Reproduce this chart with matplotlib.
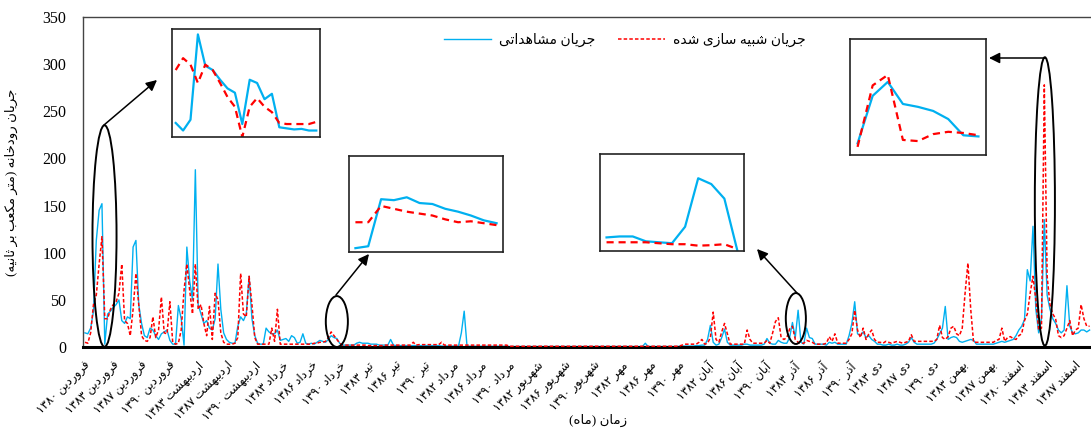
import re
import numpy as np
import matplotlib
matplotlib.use('Agg')
import matplotlib.pyplot as plt
from matplotlib.patches import Ellipse

## fonts: serif digits, DejaVu Sans for the Persian glyphs
plt.rcParams['font.family'] = ['Liberation Serif', 'DejaVu Sans']

## ---------------- data ----------------
# observed river flow (m3/s), one value per sample along the month axis
obs = [
    15, 14, 20, 38, 113, 145, 152, 3, 35, 38,
    42, 45, 50, 28, 25, 32, 30, 106, 113, 45,
    25, 12, 10, 20, 18, 12, 8, 14, 16, 18,
    7, 3, 3, 44, 30, 2, 106, 70, 50, 188,
    45, 35, 25, 28, 20, 18, 30, 88, 40, 15,
    8, 5, 4, 4, 22, 32, 28, 35, 75, 30,
    12, 4, 3, 3, 20, 16, 14, 14, 18, 7,
    8, 9, 6, 12, 10, 4, 5, 14, 4, 3,
    4, 3, 5, 7, 6, 5, 8, 12, 10, 9,
    4, 2, 2, 2, 2, 2, 4, 5, 4, 4,
    4, 3, 3, 3, 2, 2, 2, 2, 8, 2,
    1.5, 1.5, 1.5, 1.5, 1.5, 1.5, 1.5, 1.5, 1.5, 1.5,
    1.5, 1.5, 1.5, 1.5, 1.5, 1.5, 1, 1, 1, 1,
    1, 1, 1, 15, 38, 1, 0.8, 0.8, 0.8, 0.8,
    0.8, 0.8, 0.8, 0.8, 0.8, 0.8, 0.8, 0.8, 0.8, 0.8,
    0.5, 0.5, 0.5, 0.5, 0.5, 0.5, 0.5, 0.5, 0.5, 0.5,
    0.5, 0.5, 0.5, 0.5, 0.5, 0.5, 0.5, 0.5, 0.5, 0.5,
    0.5, 0.5, 0.5, 0.5, 0.5, 0.5, 0.5, 0.5, 0.5, 0.5,
    0.5, 0.5, 0.5, 0.5, 0.5, 0.5, 0.5, 0.5, 0.5, 0.5,
    0.5, 0.5, 0.5, 0.5, 0.5, 0.5, 0.5, 0.5, 4, 0.5,
    0.5, 0.5, 0.5, 0.5, 0.5, 0.5, 0.5, 0.5, 0.5, 0.5,
    0.8, 1, 1, 1, 1, 1, 1.5, 1.5, 2, 2,
    8, 23, 5, 2, 3, 10, 19, 5, 2, 2,
    2, 2, 2, 3, 3, 2, 2, 2, 2, 2,
    3, 9, 4, 3, 3, 7, 5, 4, 4, 10,
    26, 10, 39, 5, 3, 20, 10, 9, 3, 3,
    3, 3, 2, 5, 4, 5, 3, 3, 3, 3,
    12, 25, 48, 14, 12, 16, 10, 12, 8, 6,
    3, 3, 2, 2, 3, 2, 2, 3, 2, 2,
    3, 5, 10, 5, 3, 3, 3, 3, 3, 3,
    4, 8, 14, 20, 43, 8, 10, 11, 10, 6,
    5, 6, 7, 8, 7, 3, 3, 3, 3, 3,
    3, 3, 4, 5, 6, 5, 6, 7, 8, 12,
    18, 22, 29, 82, 70, 128, 40, 15, 30, 135,
    55, 40, 30, 25, 18, 15, 18, 65, 22, 15,
    14, 15, 18, 18, 16, 18,
]

# simulated river flow (m3/s)
sim = [
    5, 4, 15, 45, 55, 88, 117, 30, 30, 40,
    45, 48, 57, 88, 28, 25, 12, 40, 78, 45,
    12, 7, 6, 10, 32, 10, 18, 53, 15, 14,
    48, 5, 3, 4, 18, 60, 88, 60, 35, 88,
    40, 45, 25, 12, 43, 8, 57, 50, 15, 5,
    3, 3, 3, 4, 10, 78, 35, 32, 75, 45,
    10, 3, 3, 3, 3, 3, 20, 6, 40, 3,
    3, 3, 3, 3, 3, 3, 3, 3, 3, 3,
    3, 4, 4, 5, 5, 6, 10, 16, 12, 8,
    4, 2, 2, 2, 2, 2, 2, 2, 2, 2,
    1.5, 1.5, 1.5, 1.5, 1.5, 1.5, 2, 2, 2, 2,
    2, 2, 2, 2, 2, 2, 5, 2, 2.5, 2.5,
    2.5, 2.5, 2.5, 2.5, 2.5, 2.5, 5, 2, 2, 2,
    2, 2, 2, 2, 2, 2, 2, 2, 2, 2,
    2, 2, 2, 2, 2, 2, 2, 2, 2, 2,
    0.8, 0.8, 0.8, 0.8, 0.8, 0.8, 0.8, 0.8, 0.8, 0.8,
    0.8, 0.8, 0.8, 0.8, 0.8, 0.8, 0.8, 0.8, 0.8, 0.8,
    0.8, 0.8, 0.8, 0.8, 0.8, 0.8, 0.8, 0.8, 0.8, 0.8,
    0.8, 0.8, 0.8, 0.8, 0.8, 0.8, 0.8, 0.8, 0.8, 0.8,
    0.8, 0.8, 0.8, 0.8, 0.8, 0.8, 0.8, 0.8, 0.8, 0.8,
    0.8, 0.8, 0.8, 0.8, 0.8, 0.8, 0.8, 0.8, 0.8, 0.8,
    1, 2, 3, 3, 3, 3, 3, 5, 8, 3,
    4, 10, 37, 8, 5, 16, 25, 14, 3, 3,
    3, 3, 3, 3, 18, 8, 4, 4, 4, 4,
    4, 7, 4, 15, 27, 31, 10, 8, 10, 19,
    22, 8, 5, 4, 4, 7, 6, 5, 3, 3,
    3, 3, 4, 11, 6, 14, 4, 4, 4, 4,
    8, 14, 39, 18, 10, 20, 8, 14, 18, 8,
    5, 5, 4, 6, 5, 4, 5, 6, 5, 4,
    5, 6, 13, 6, 6, 6, 6, 6, 6, 6,
    6, 8, 23, 10, 8, 11, 20, 22, 14, 12,
    20, 57, 89, 40, 5, 5, 5, 5, 5, 5,
    5, 5, 7, 8, 20, 6, 10, 11, 9, 8,
    12, 14, 28, 35, 57, 75, 50, 18, 20, 278,
    75, 45, 35, 30, 12, 10, 12, 20, 28, 12,
    18, 20, 45, 30, 22, 22,
]

# one tick label every 10 samples
tick_labels = [
    'فروردین ۱۳۸۰', 'فروردین ۱۳۸۳', 'فروردین ۱۳۸۷', 'فروردین ۱۳۹۰',
    'اردیبهشت ۱۳۸۳', 'اردیبهشت ۱۳۸۷', 'اردیبهشت ۱۳۹۰',
    'خرداد ۱۳۸۳', 'خرداد ۱۳۸۶', 'خرداد ۱۳۹۰',
    'تیر ۱۳۸۳', 'تیر ۱۳۸۶', 'تیر ۱۳۹۰',
    'مرداد ۱۳۸۲', 'مرداد ۱۳۸۶', 'مرداد ۱۳۹۰',
    'شهریور ۱۳۸۲', 'شهریور ۱۳۸۶', 'شهریور ۱۳۹۰',
    'مهر ۱۳۸۲', 'مهر ۱۳۸۶', 'مهر ۱۳۹۰',
    'آبان ۱۳۸۲', 'آبان ۱۳۸۶', 'آبان ۱۳۹۰',
    'آذر ۱۳۸۳', 'آذر ۱۳۸۶', 'آذر ۱۳۹۰',
    'دی ۱۳۸۳', 'دی ۱۳۸۷', 'دی ۱۳۹۰',
    'بهمن ۱۳۸۳', 'بهمن ۱۳۸۷',
    'اسفند ۱۳۸۰', 'اسفند ۱۳۸۳', 'اسفند ۱۳۸۷',
]

# zoomed insets (relative units, 0-100 of the inset box)
inset1_obs = [13, 6, 16, 95, 66, 62, 53, 45, 41, 12, 53, 50, 35, 40, 9, 8, 7, 7.5, 6, 6]
inset1_sim = [62, 73, 67, 50, 67, 62, 50, 37, 28, 0, 28, 36, 28, 23, 13, 12, 12, 12, 12, 14]
inset2_obs = [4, 6, 55, 54, 57, 51, 50, 45, 42, 38, 33, 30]
inset2_sim = [31, 31, 48, 45, 42, 40, 38, 34, 31, 32, 30, 28]
inset3_obs = [14, 15, 15, 10, 9, 8, 25, 75, 69, 54, 0]
inset3_sim = [9, 9, 9, 9, 8, 7, 7, 5.5, 6, 7, 2]
inset4_obs = [10, 51, 63, 44, 41.5, 38, 31, 17, 16]
inset4_sim = [7, 60, 69, 13, 12, 18, 20, 19, 17]

label_obs = 'جریان مشاهداتی'
label_sim = 'جریان شبیه سازی شده'
ylabel = 'جریان رودخانه (متر مکعب بر ثانیه)'
xlabel = 'زمان (ماه)'

BLUE = '#00B0F0'
RED = '#FF0000'

## ---------------- persian text helpers ----------------
# (isolated, final, initial, medial); None -> letter does not join to the next one
FORMS = {
    'ا': ('\uFE8D', '\uFE8E', None, None),
    'آ': ('\uFE81', '\uFE82', None, None),
    'ب': ('\uFE8F', '\uFE90', '\uFE91', '\uFE92'),
    'ت': ('\uFE95', '\uFE96', '\uFE97', '\uFE98'),
    'ث': ('\uFE99', '\uFE9A', '\uFE9B', '\uFE9C'),
    'ج': ('\uFE9D', '\uFE9E', '\uFE9F', '\uFEA0'),
    'خ': ('\uFEA5', '\uFEA6', '\uFEA7', '\uFEA8'),
    'د': ('\uFEA9', '\uFEAA', None, None),
    'ذ': ('\uFEAB', '\uFEAC', None, None),
    'ر': ('\uFEAD', '\uFEAE', None, None),
    'ز': ('\uFEAF', '\uFEB0', None, None),
    'س': ('\uFEB1', '\uFEB2', '\uFEB3', '\uFEB4'),
    'ش': ('\uFEB5', '\uFEB6', '\uFEB7', '\uFEB8'),
    'ع': ('\uFEC9', '\uFECA', '\uFECB', '\uFECC'),
    'ف': ('\uFED1', '\uFED2', '\uFED3', '\uFED4'),
    'ک': ('\uFB8E', '\uFB8F', '\uFB90', '\uFB91'),
    'م': ('\uFEE1', '\uFEE2', '\uFEE3', '\uFEE4'),
    'ن': ('\uFEE5', '\uFEE6', '\uFEE7', '\uFEE8'),
    'ه': ('\uFEE9', '\uFEEA', '\uFEEB', '\uFEEC'),
    'و': ('\uFEED', '\uFEEE', None, None),
    'ی': ('\uFBFC', '\uFBFD', '\uFBFE', '\uFBFF'),
}
MIRROR = {'(': ')', ')': '('}


def shape(text):
    out = []
    for k, ch in enumerate(text):
        if ch not in FORMS:
            out.append(ch)
            continue
        prev = text[k - 1] if k > 0 else ''
        nxt = text[k + 1] if k + 1 < len(text) else ''
        iso, fin, ini, med = FORMS[ch]
        join_prev = prev in FORMS and FORMS[prev][2] is not None
        join_next = nxt in FORMS and ini is not None
        if join_prev and join_next:
            out.append(med)
        elif join_prev:
            out.append(fin)
        elif join_next:
            out.append(ini)
        else:
            out.append(iso)
    return ''.join(out)


def fa(text):
    ## shape + put in visual (left to right) order, digit runs stay LTR
    runs = re.findall(r'\d+|\D', shape(text))
    return ''.join(r if r[0].isdigit() else MIRROR.get(r, r) for r in reversed(runs))


## ---------------- figure ----------------
W, H = 1091, 428
fig = plt.figure(figsize=(W / 100, H / 100), dpi=100)


def fpx(x, y):
    # pixel position (from top-left) -> figure fraction
    return x / W, 1 - y / H


ax_l, ax_r, ax_t, ax_b = 83, 1091, 17, 347
ax = fig.add_axes([ax_l / W, 1 - ax_b / H, (ax_r - ax_l) / W, (ax_b - ax_t) / H])

x_obs = np.arange(len(obs))
x_sim = np.arange(len(sim))
ax.plot(x_obs, obs, color=BLUE, lw=1.0, label=fa(label_obs), zorder=2)
ax.plot(x_sim, sim, color=RED, lw=1.1, ls=(0, (2.3, 1.4)), label=fa(label_sim), zorder=3)

ax.set_xlim(-0.7, 355.5)
ax.set_ylim(0, 350)
ax.set_yticks(np.arange(0, 351, 50))
ax.set_xticks(np.arange(len(tick_labels)) * 10)
ax.set_xticklabels([fa(t) for t in tick_labels], rotation=45, ha='right', va='top',
                   rotation_mode='anchor', fontsize=8.5)
ax.tick_params(axis='x', length=0, pad=9)
ax.tick_params(axis='y', length=0, pad=12, labelsize=11.5)

ax.spines['right'].set_visible(False)
ax.spines['bottom'].set_linewidth(2.2)
ax.spines['bottom'].set_color('black')
for s in ('left', 'top'):
    ax.spines[s].set_linewidth(1.0)
    ax.spines[s].set_color('#444444')

ax.set_ylabel(fa(ylabel), fontsize=9.5)
ax.yaxis.set_label_coords((18 - ax_l) / (ax_r - ax_l), 0.5)
fig.text(*fpx(598, 420), fa(xlabel), ha='center', va='center', fontsize=9.5)

leg = ax.legend(loc='center', bbox_to_anchor=fpx(625, 40), bbox_transform=fig.transFigure,
                ncol=2, frameon=False, fontsize=10, handlelength=3.4, columnspacing=1.6,
                handletextpad=0.6)

## ellipses marking the zoomed events (data coords of the main axis)
for cx, cy, w, h in [(6.9, 117.7, 8.5, 235), (89.0, 27, 7.8, 54),
                     (251.2, 30.2, 7.1, 54), (339.2, 154.3, 7.1, 306)]:
    ax.add_patch(Ellipse((cx, cy), w, h, fill=False, ec='black', lw=1.4, zorder=5,
                         clip_on=False))

## arrows from ellipse to inset
for start, end in [((104, 125), (157, 80)), ((336, 295), (369, 254)),
                   ((797, 293), (757, 249)), ((1045, 58), (989, 58))]:
    ax.annotate('', xy=fpx(*end), xycoords='figure fraction',
                xytext=fpx(*start), textcoords='figure fraction',
                arrowprops=dict(arrowstyle='-|>', color='black', lw=1.1,
                                mutation_scale=16, shrinkA=0, shrinkB=0))


## insets
def draw_inset(box, o, s):
    x0, y0, x1, y1 = box
    a = fig.add_axes([x0 / W, 1 - y1 / H, (x1 - x0) / W, (y1 - y0) / H])
    a.plot(np.arange(len(o)), o, color=BLUE, lw=1.6)
    a.plot(np.arange(len(s)), s, color=RED, lw=1.6, ls=(0, (3.2, 2.2)))
    a.set_xlim(-0.5, len(o) - 0.5)
    a.set_ylim(0, 100)
    a.set_xticks([])
    a.set_yticks([])
    for sp in a.spines.values():
        sp.set_linewidth(1.2)
        sp.set_color('#222222')
    return a


draw_inset((172, 29, 320, 137), inset1_obs, inset1_sim)
draw_inset((349, 156, 503, 252), inset2_obs, inset2_sim)
draw_inset((600, 154, 744, 251), inset3_obs, inset3_sim)
draw_inset((850, 39, 986, 155), inset4_obs, inset4_sim)

fig.savefig('out.png', dpi=100, facecolor='white')
